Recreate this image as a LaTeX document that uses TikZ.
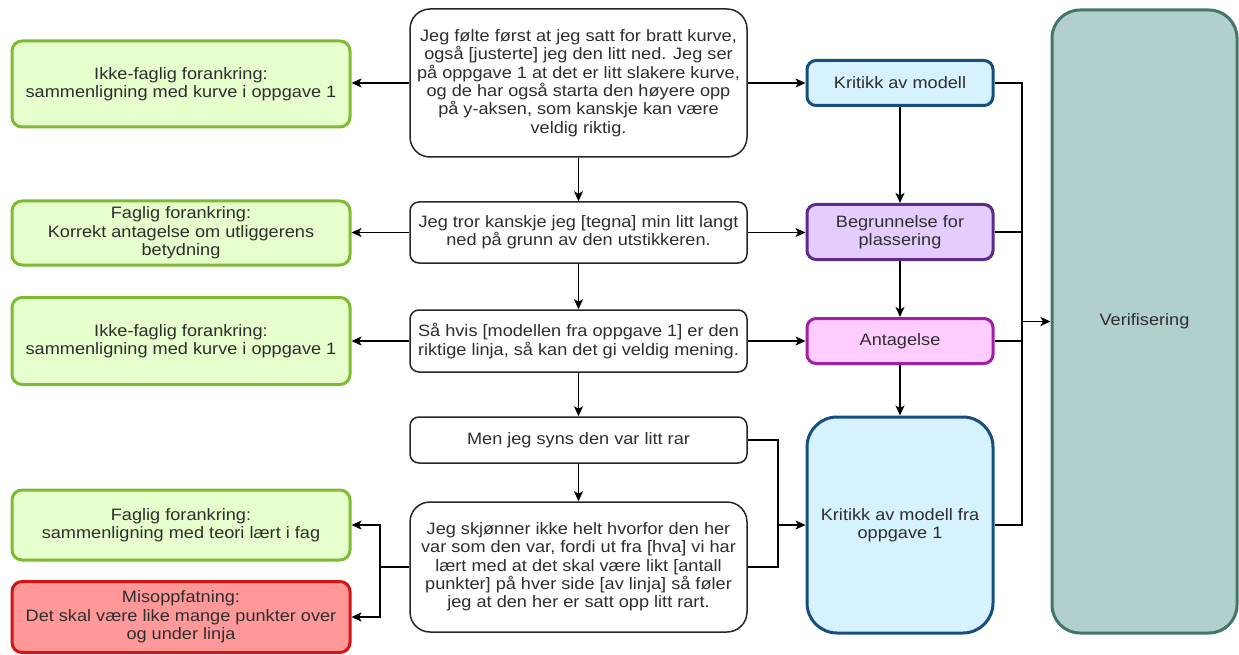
\documentclass[tikz,border=0pt]{standalone}
\usepackage{fontspec}
\setmainfont[FakeStretch=1.1]{Liberation Sans}
\usetikzlibrary{arrows.meta}
\definecolor{txt}{HTML}{2E2E2E}
\definecolor{grfill}{HTML}{E6FFCC}
\definecolor{grline}{HTML}{7DBB32}
\definecolor{rdfill}{HTML}{FF9999}
\definecolor{rdline}{HTML}{D41414}
\definecolor{blfill}{HTML}{D6F2FF}
\definecolor{blline}{HTML}{164E80}
\definecolor{pufill}{HTML}{E5CCFF}
\definecolor{puline}{HTML}{5B2C8E}
\definecolor{pkfill}{HTML}{FFCCFF}
\definecolor{pkline}{HTML}{A11FA5}
\definecolor{tefill}{HTML}{B0CFCD}
\definecolor{teline}{HTML}{437668}
\begin{document}
\begin{tikzpicture}[x=1pt,y=-1pt,
  base/.style={draw, align=center, inner sep=0pt, text=txt,
    font=\fontsize{16.5}{18.3}\selectfont},
  quote/.style={base, line width=1.5pt, draw=black!85, fill=white, rounded corners=#1},
  quote/.default=9pt,
  anchorbox/.style={base, line width=3pt, draw=grline, fill=grfill, rounded corners=10pt,
    minimum width=338pt},
  misbox/.style={base, line width=3pt, draw=rdline, fill=rdfill, rounded corners=10pt,
    minimum width=338pt},
  catbox/.style={base, line width=3pt, rounded corners=#1, minimum width=186pt},
  catbox/.default=9pt,
  conn/.style={line width=1.4pt, draw=black},
  arr/.style={conn, -{Stealth[length=10pt,width=9pt,inset=2.5pt]}}
]
\useasboundingbox (0,0) rectangle (1239,655);

% left column: anchoring categories
\node[anchorbox, minimum height=86pt] (g1) at (181,84)
  {Ikke-faglig forankring:\\sammenligning med kurve i oppgave 1};
\node[anchorbox, minimum height=64pt] (g2) at (181,233)
  {Faglig forankring:\\Korrekt antagelse om utliggerens\\betydning};
\node[anchorbox, minimum height=87pt] (g3) at (181,341)
  {Ikke-faglig forankring:\\sammenligning med kurve i oppgave 1};
\node[anchorbox, minimum height=70pt] (g4) at (181,525)
  {Faglig forankring:\\sammenligning med teori lært i fag};
\node[misbox, minimum height=71pt] (g5) at (181,617)
  {Misoppfatning:\\Det skal være like mange punkter over\\og under linja};

% middle column: statements
\node[quote=20pt, minimum width=337pt, minimum height=148pt] (m1) at (578.5,83)
  {Jeg følte først at jeg satt for bratt kurve,\\også [justerte] jeg den litt ned. Jeg ser\\på oppgave 1 at det er litt slakere kurve,\\og de har også starta den høyere opp\\på y-aksen, som kanskje kan være\\veldig riktig.};
\node[quote, minimum width=337pt, minimum height=61pt] (m2) at (578.5,232.5)
  {Jeg tror kanskje jeg [tegna] min litt langt\\ned på grunn av den utstikkeren.};
\node[quote, minimum width=337pt, minimum height=62pt] (m3) at (578.5,341)
  {Så hvis [modellen fra oppgave 1] er den\\riktige linja, så kan det gi veldig mening.};
\node[quote, minimum width=337pt, minimum height=46pt] (m4) at (578.5,440)
  {Men jeg syns den var litt rar};
\node[quote=20pt, minimum width=337pt, minimum height=130pt] (m5) at (578.5,567)
  {Jeg skjønner ikke helt hvorfor den her\\var som den var, fordi ut fra [hva] vi har\\lært med at det skal være likt [antall\\punkter] på hver side [av linja] så føler\\jeg at den her er satt opp litt rart.};

% right column: reasoning categories
\node[catbox, draw=blline, fill=blfill, minimum height=45pt] (r1) at (900,83)
  {Kritikk av modell};
\node[catbox, draw=puline, fill=pufill, minimum height=55pt] (r2) at (900,232)
  {Begrunnelse for\\plassering};
\node[catbox, draw=pkline, fill=pkfill, minimum height=45pt] (r3) at (900,341)
  {Antagelse};
\node[catbox=30pt, draw=blline, fill=blfill, minimum height=216pt] (r4) at (900,525)
  {Kritikk av modell fra\\oppgave 1};
\node[base, line width=3pt, draw=teline, fill=tefill, rounded corners=28pt,
  minimum width=185pt, minimum height=623pt] (v) at (1144.5,321.5) {Verifisering};

% junction points
\coordinate (jl) at (380,567);
\coordinate (jm) at (778,525);
\coordinate (jr) at (1022,321.5);

% statements to anchoring categories
\draw[arr] (m1.west) -- (m1.west -| g1.east);
\draw[arr] (m2.west) -- (m2.west -| g2.east);
\draw[arr] (m3.west) -- (m3.west -| g3.east);
\draw[conn] (m5.west) -- (jl);
\draw[arr] (jl) |- (g4.east);
\draw[arr] (jl) |- (g5.east);

% flow of statements
\draw[arr] (m1.south) -- (m2.north);
\draw[arr] (m2.south) -- (m3.north);
\draw[arr] (m3.south) -- (m4.north);
\draw[arr] (m4.south) -- (m5.north);

% statements to reasoning categories
\draw[arr] (m1.east) -- (m1.east -| r1.west);
\draw[arr] (m2.east) -- (m2.east -| r2.west);
\draw[arr] (m3.east) -- (m3.east -| r3.west);
\draw[conn] (m4.east) -| (jm);
\draw[conn] (m5.east) -| (jm);
\draw[arr] (jm) -- (r4.west |- jm);

% flow of reasoning categories
\draw[arr] (r1.south) -- (r2.north);
\draw[arr] (r2.south) -- (r3.north);
\draw[arr] (r3.south) -- (r4.north);

% all reasoning categories lead to verification
\draw[conn] (r1.east) -| (jr);
\draw[conn] (r2.east) -| (jr);
\draw[conn] (r3.east) -| (jr);
\draw[conn] (r4.east) -| (jr);
\draw[arr] (jr) -- (v.west |- jr);
\end{tikzpicture}
\end{document}
